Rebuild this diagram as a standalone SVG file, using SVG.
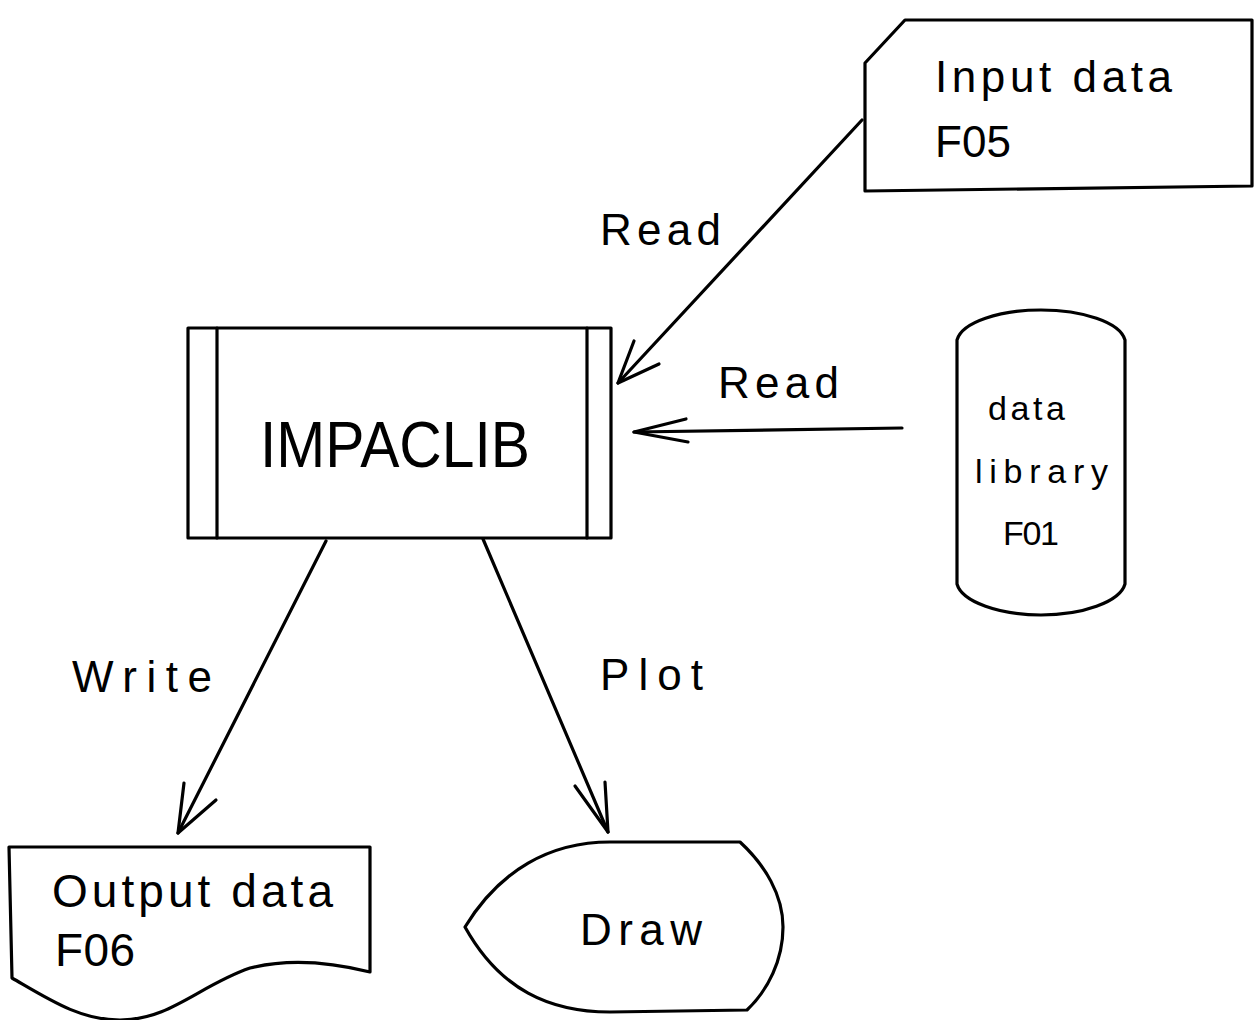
<svg xmlns="http://www.w3.org/2000/svg" width="1256" height="1020" viewBox="0 0 1256 1020">
<style>
.s{fill:none;stroke:#000;stroke-width:3.2;stroke-linejoin:round;stroke-linecap:round}
.t{font-family:"Liberation Sans","DejaVu Sans",sans-serif;fill:#000}
</style>
<rect width="1256" height="1020" fill="#fff"/>
<g id="impaclib">
<rect class="s" x="188" y="328" width="423" height="210"/>
<line class="s" x1="217" y1="328" x2="217" y2="538"/>
<line class="s" x1="587" y1="328" x2="587" y2="538"/>
<text class="t" x="260" y="467" font-size="64" textLength="270" lengthAdjust="spacingAndGlyphs">IMPACLIB</text>
</g>
<g id="input-data">
<path class="s" d="M905,20 L1252,20 L1252,186 L865,191 L865,63 Z"/>
<text class="t" x="935" y="92" font-size="44" textLength="237" lengthAdjust="spacing">Input data</text>
<text class="t" x="935" y="157" font-size="44" textLength="76" lengthAdjust="spacing">F05</text>
</g>
<g id="data-library">
<path class="s" d="M957,340 C962,322 1000,310 1041,310 C1082,310 1120,322 1125,340 L1125,584 C1120,602 1082,615 1041,615 C1000,615 962,602 957,584 Z"/>
<text class="t" x="988" y="420" font-size="34" textLength="77" lengthAdjust="spacing">data</text>
<text class="t" x="975" y="483" font-size="34" textLength="133" lengthAdjust="spacing">library</text>
<text class="t" x="1003" y="545" font-size="34" textLength="56" lengthAdjust="spacing">F01</text>
</g>
<g id="output-data">
<path class="s" d="M9,847 L370,847 L370,972 C330,962 290,958 250,968 C200,985 170,1020 120,1020 C80,1020 50,1000 12,978 Z"/>
<text class="t" x="52" y="907" font-size="46" textLength="281" lengthAdjust="spacing">Output data</text>
<text class="t" x="55" y="966" font-size="46" textLength="80" lengthAdjust="spacing">F06</text>
</g>
<g id="draw">
<path class="s" d="M465,927 C500,870 550,842 610,842 L740,842 C765,865 783,895 783,927 C783,960 768,990 747,1010 L610,1012 C550,1012 500,990 465,927 Z"/>
<text class="t" x="580" y="945" font-size="44" textLength="122" lengthAdjust="spacing">Draw</text>
</g>
<g id="connectors">
<line class="s" x1="862" y1="120" x2="618" y2="383"/>
<polyline class="s" points="634,341 618,383 659,364"/>
<line class="s" x1="902" y1="428" x2="634" y2="432"/>
<polyline class="s" points="686,419 634,432 688,442"/>
<line class="s" x1="326" y1="541" x2="178" y2="833"/>
<polyline class="s" points="184,783 178,833 216,800"/>
<line class="s" x1="483" y1="539" x2="608" y2="832"/>
<polyline class="s" points="575,786 608,832 605,782"/>
<text class="t" x="600" y="245" font-size="44" textLength="121" lengthAdjust="spacing">Read</text>
<text class="t" x="718" y="398" font-size="44" textLength="121" lengthAdjust="spacing">Read</text>
<text class="t" x="72" y="692" font-size="44" textLength="140" lengthAdjust="spacing">Write</text>
<text class="t" x="600" y="690" font-size="44" textLength="103" lengthAdjust="spacing">Plot</text>
</g>
</svg>
